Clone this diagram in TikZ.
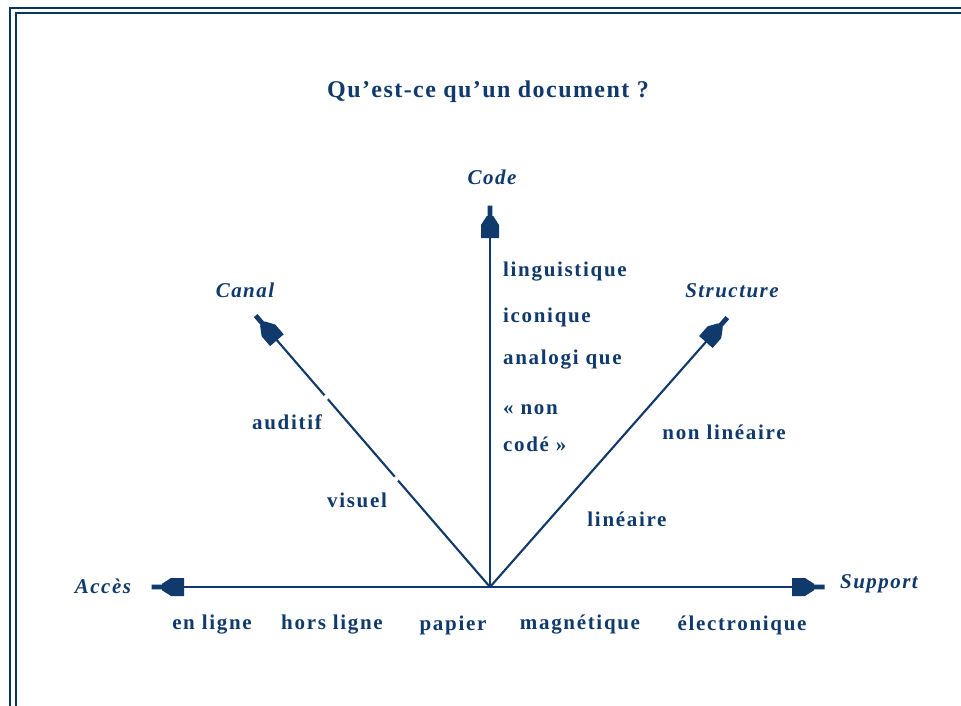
\documentclass[tikz,border=0pt]{standalone}
\usepackage{fontspec}
\setmainfont{Liberation Serif}
\usetikzlibrary{calc}
\definecolor{navy}{HTML}{0F3A6B}
\definecolor{framec}{HTML}{0A3462}
\tikzset{
  axis/.style={draw=navy, line width=2.1pt},
  head/.pic={
    \fill[navy] (0.5,-2.4) -- (0.5,2.4) -- (-10,2.4) -- (-10,3.2) -- (-19,9) -- (-32,9) -- (-32,-9) -- (-19,-9) -- (-10,-3.2) -- (-10,-2.4) -- cycle;
  },
  lbl/.style={text=navy, font=\fontsize{21}{25}\selectfont\bfseries\addfontfeature{LetterSpace=8}, inner sep=0pt},
  ax/.style={text=navy, font=\fontsize{21}{25}\selectfont\bfseries\itshape\addfontfeature{LetterSpace=7}, inner sep=0pt},
}
\begin{document}
\begin{tikzpicture}[x=1pt,y=-1pt]
\useasboundingbox (0,0) rectangle (961,706);
\fill[white] (0,0) rectangle (961,706);
% frame
\draw[framec, line width=2.2pt] (10,706) -- (10,8) -- (961,8);
\draw[framec, line width=2.2pt] (16,706) -- (16,13) -- (961,13);
% title
\node[text=navy, font=\fontsize{24}{28}\selectfont\bfseries\addfontfeature{LetterSpace=6}, inner sep=0pt] (title) at (488,92) {Qu'est-ce qu'un document ?};
% axes
\coordinate (O) at (490,587);
\coordinate (pcode) at (490,206);
\coordinate (pcanal) at (256,316);
\coordinate (pstruct) at (727,318);
\coordinate (pacces) at (152,587);
\coordinate (psupport) at (824,587);
\foreach \p in {pcode,pcanal,pstruct,pacces,psupport}{
  \draw[axis] (O) -- ($(\p)!10pt!(O)$);
  \path (O) -- (\p) pic[pos=1, sloped, allow upside down] {head};
}
% small gaps on Canal axis
\fill[white] ($(O)!0.70!(pcanal)$) circle (2.6pt);
\fill[white] ($(O)!0.40!(pcanal)$) circle (2.6pt);
% axis names
\node[ax] (code) at (492,177) {Code};
\node[ax] (canal) at (245,290) {Canal};
\node[ax] (struct) at (732,291) {Structure};
\node[ax] (acces) at (103,586) {Accès};
\node[ax] (support) at (879,584) {Support};
% code values
\node[lbl, anchor=west] (ling) at (503,272) {linguistique};
\node[lbl, anchor=west] (icon) at (503,317) {iconique};
\node[lbl, anchor=west] (analog) at (503,360) {analogi que};
\node[lbl, anchor=west] (non) at (503,410) {« non};
\node[lbl, anchor=west] (code2) at (503,444) {codé »};
% canal values
\node[lbl] (auditif) at (287,422) {auditif};
\node[lbl] (visuel) at (357,500) {visuel};
% structure values
\node[lbl] (nonlin) at (724,432) {non linéaire};
\node[lbl] (lin) at (627,519) {linéaire};
% support / acces values
\node[lbl] (enligne) at (212,625) {en ligne};
\node[lbl] (horsligne) at (332,625) {hors ligne};
\node[lbl] (papier) at (453,625) {papier};
\node[lbl] (magn) at (580,625) {magnétique};
\node[lbl] (elec) at (742,625) {électronique};
\end{tikzpicture}
\end{document}
